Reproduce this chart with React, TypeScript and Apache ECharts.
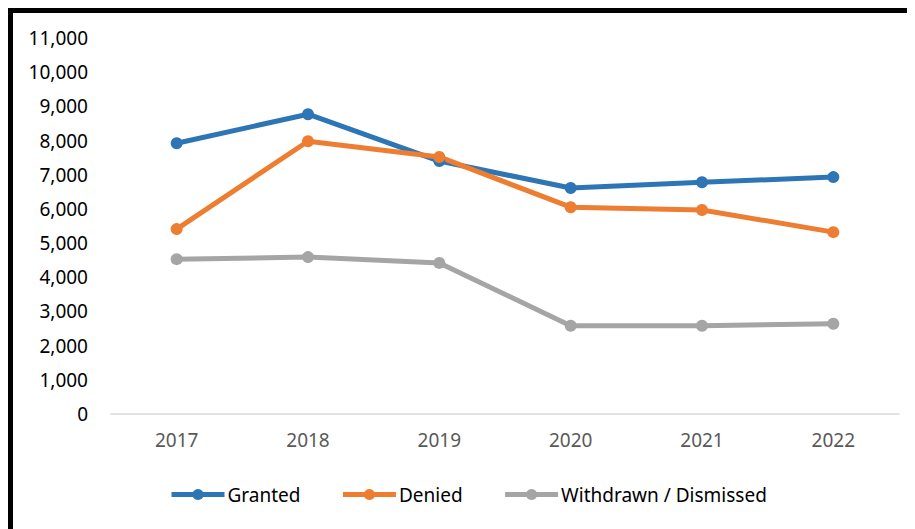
import React, { useEffect, useRef } from "react";
import * as echarts from "echarts";

const years = ["2017", "2018", "2019", "2020", "2021", "2022"];
const granted = [7920, 8770, 7400, 6610, 6780, 6930];
const denied = [5410, 7980, 7520, 6050, 5970, 5320];
const withdrawn = [4530, 4590, 4420, 2580, 2580, 2640];
const seriesNames = ["Granted", "Denied", "Withdrawn / Dismissed"];
const colors = ["#2E75B6", "#ED7D31", "#A5A5A5"];

export default function App() {
  const ref = useRef<HTMLDivElement>(null);
  useEffect(() => {
    if (!ref.current) return;
    const chart = echarts.init(ref.current, undefined, { renderer: "svg" });
    const font = "Noto Sans";
    const mk = (name: string, data: number[], color: string) => ({
      name,
      type: "line",
      data,
      color,
      symbol: "circle",
      symbolSize: 12,
      lineStyle: { width: 5, color },
      itemStyle: { color },
    });
    chart.setOption({
      animation: false,
      backgroundColor: "#fff",
      textStyle: { fontFamily: font },
      grid: { left: 98, right: 16, top: 25, bottom: 115, containLabel: false },
      xAxis: {
        type: "category",
        data: years,
        boundaryGap: true,
        axisLine: { lineStyle: { color: "#D9D9D9", width: 1.5 } },
        axisTick: { show: false },
        axisLabel: { color: "#595959", fontSize: 19, margin: 16, fontFamily: font },
      },
      yAxis: {
        type: "value",
        min: 0,
        max: 11000,
        interval: 1000,
        splitLine: { show: false },
        axisLine: { show: false },
        axisTick: { show: false },
        axisLabel: {
          color: "#000",
          fontSize: 19,
          margin: 23,
          fontFamily: font,
          formatter: (v: number) => v.toLocaleString("en-US"),
        },
      },
      legend: {
        data: seriesNames,
        top: 467,
        left: 151,
        itemWidth: 53,
        itemHeight: 14,
        itemGap: 40,
        lineStyle: { width: 5 },
        textStyle: { color: "#000", fontSize: 19, fontFamily: font, padding: [0, 0, 0, -2] },
      },
      series: [
        mk(seriesNames[0], granted, colors[0]),
        mk(seriesNames[1], denied, colors[1]),
        mk(seriesNames[2], withdrawn, colors[2]),
      ],
    });
    return () => chart.dispose();
  }, []);
  return (
    <div
      style={{
        width: 902,
        height: 516,
        borderTop: "5px solid #000",
        borderLeft: "5px solid #000",
        background: "#fff",
      }}
    >
      <div ref={ref} style={{ width: 902, height: 516 }} />
    </div>
  );
}
